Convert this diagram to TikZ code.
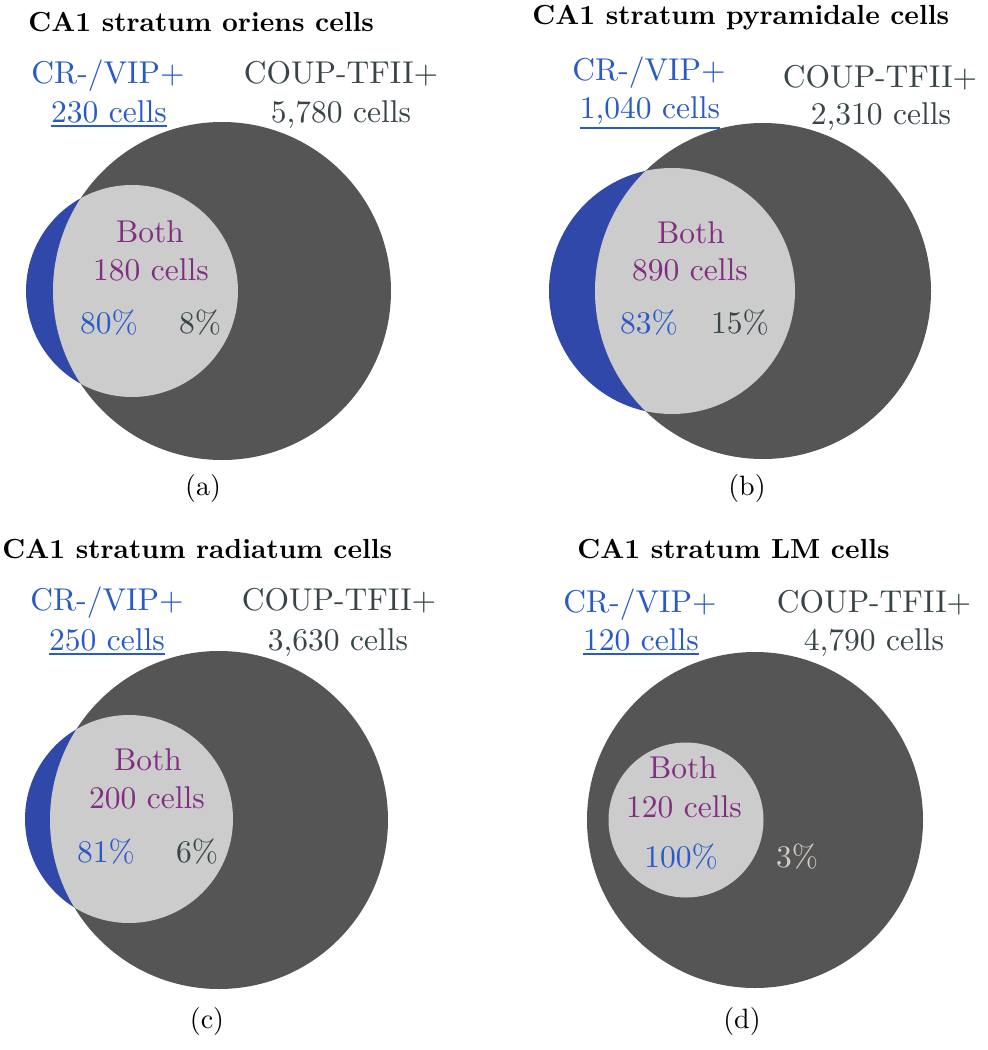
\documentclass[tikz,border=0pt]{standalone}
\definecolor{vipfill}{RGB}{48,72,170}
\definecolor{coupfill}{RGB}{85,85,85}
\definecolor{bothfill}{RGB}{204,204,204}
\definecolor{viptext}{RGB}{40,90,200}
\definecolor{couptext}{RGB}{55,68,72}
\definecolor{bothtext}{RGB}{130,45,130}
\definecolor{lighttext}{RGB}{212,202,198}
\newcommand\vennpair[6]{%
  \fill[vipfill] (#4,#5) circle (#6);
  \fill[coupfill] (#1,#2) circle (#3);
  \begin{scope}
    \clip (#1,#2) circle (#3);
    \fill[bothfill] (#4,#5) circle (#6);
  \end{scope}}
\newcommand\lbl[1]{\scalebox{1.575}{\fontsize{10}{12}\selectfont #1}}
\newcommand\ttl[1]{\scalebox{1.38}{\fontsize{10}{12}\selectfont\bfseries #1}}
\newcommand\cpt[1]{\scalebox{1.4}{\fontsize{10}{12}\selectfont #1}}
\begin{document}
\begin{tikzpicture}[x=0.5pt,y=-0.5pt,
  title/.style={anchor=base west, inner sep=0pt},
  lab/.style={anchor=base, inner sep=0pt},
  subcap/.style={anchor=base, inner sep=0pt},
  vip/.style={text=viptext},
  coup/.style={text=couptext},
  both/.style={text=bothtext},
  light/.style={text=lighttext},
  ul/.style={draw=viptext, line width=0.9pt}]
\useasboundingbox (0,0) rectangle (988,1050);
\fill[white] (0,0) rectangle (988,1050);

% ---------- (a) ----------
\vennpair{222}{291}{169}{132}{291}{106}
\node[title] (ta) at (28,31) {\ttl{CA1 stratum oriens cells}};
\node[lab,vip] (va) at (108,83) {\lbl{CR-/VIP+}};
\node[lab,vip] (vna) at (109,122) {\lbl{230 cells}};
\draw[ul] ([yshift=-2pt]vna.base west) -- ([yshift=-2pt]vna.base east);
\node[lab,coup] (ca) at (341,83) {\lbl{COUP-TFII+}};
\node[lab,coup] (cna) at (341,122) {\lbl{5,780 cells}};
\node[lab,both] (ba) at (150,242) {\lbl{Both}};
\node[lab,both] (bna) at (151,280) {\lbl{180 cells}};
\node[lab,vip] (pva) at (109,333) {\lbl{80\%}};
\node[lab,coup] (pca) at (200,333) {\lbl{8\%}};
\node[subcap] (capa) at (203,495) {\cpt{(a)}};

% ---------- (b) ----------
\vennpair{763}{291}{168}{672}{291}{123}
\node[title] (tb) at (532,24) {\ttl{CA1 stratum pyramidale cells}};
\node[lab,vip] (vb) at (649,80) {\lbl{CR-/VIP+}};
\node[lab,vip] (vnb) at (650,118) {\lbl{1,040 cells}};
\draw[ul] ([yshift=-5pt]vnb.base west) -- ([yshift=-5pt]vnb.base east);
\node[lab,coup] (cb) at (880,87) {\lbl{COUP-TFII+}};
\node[lab,coup] (cnb) at (881,124) {\lbl{2,310 cells}};
\node[lab,both] (bb) at (691,243) {\lbl{Both}};
\node[lab,both] (bnb) at (690,280) {\lbl{890 cells}};
\node[lab,vip] (pvb) at (649,333) {\lbl{83\%}};
\node[lab,coup] (pcb) at (740,333) {\lbl{15\%}};
\node[subcap] (capb) at (747,495) {\cpt{(b)}};

% ---------- (c) ----------
\vennpair{219}{820}{169}{129}{819}{104}
\node[title] (tc) at (2,558) {\ttl{CA1 stratum radiatum cells}};
\node[lab,vip] (vc) at (107,610) {\lbl{CR-/VIP+}};
\node[lab,vip] (vnc) at (107,650) {\lbl{250 cells}};
\draw[ul] ([yshift=-2pt]vnc.base west) -- ([yshift=-2pt]vnc.base east);
\node[lab,coup] (cc) at (339,610) {\lbl{COUP-TFII+}};
\node[lab,coup] (cnc) at (338,650) {\lbl{3,630 cells}};
\node[lab,both] (bc) at (148,770) {\lbl{Both}};
\node[lab,both] (bnc) at (147,808) {\lbl{200 cells}};
\node[lab,vip] (pvc) at (106,862) {\lbl{81\%}};
\node[lab,coup] (pcc) at (197,862) {\lbl{6\%}};
\node[subcap] (capc) at (207,1028) {\cpt{(c)}};

% ---------- (d) ----------
\vennpair{755}{820}{168}{686}{820}{77.5}
\node[title] (td) at (577,558) {\ttl{CA1 stratum LM cells}};
\node[lab,vip] (vd) at (640,612) {\lbl{CR-/VIP+}};
\node[lab,vip] (vnd) at (641,650) {\lbl{120 cells}};
\draw[ul] ([yshift=-2pt]vnd.base west) -- ([yshift=-2pt]vnd.base east);
\node[lab,coup] (cd) at (874,612) {\lbl{COUP-TFII+}};
\node[lab,coup] (cnd) at (874,650) {\lbl{4,790 cells}};
\node[lab,both] (bd) at (683,778) {\lbl{Both}};
\node[lab,both] (bnd) at (684,817) {\lbl{120 cells}};
\node[lab,vip] (pvd) at (681,867) {\lbl{100\%}};
\node[lab,light] (pcd) at (797,867) {\lbl{3\%}};
\node[subcap] (capd) at (742,1028) {\cpt{(d)}};
\end{tikzpicture}
\end{document}
